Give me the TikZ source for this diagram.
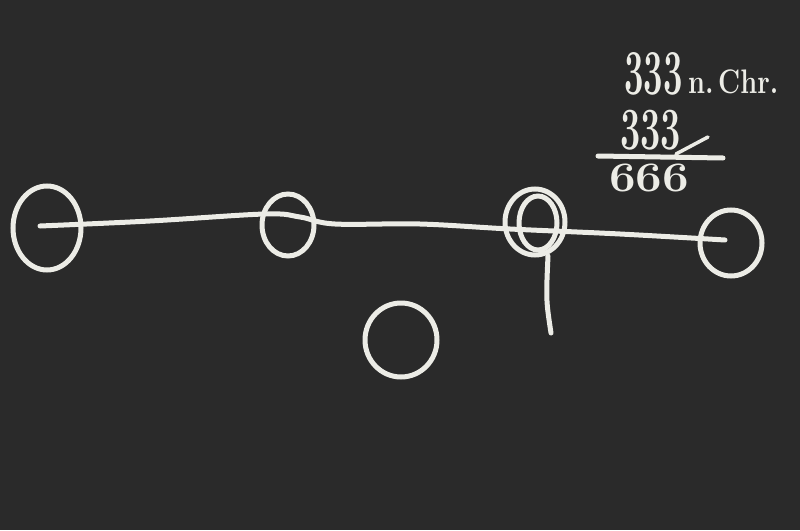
\documentclass[tikz,border=0pt]{standalone}
\usepackage{graphicx}
\usepackage{tikz}
\usetikzlibrary{shapes.geometric}
\definecolor{board}{RGB}{42,42,42}
\definecolor{chalk}{RGB}{236,236,230}
\tikzset{
  ring/.style={ellipse,draw=chalk,line width=5pt,inner sep=0pt},
  stroke/.style={draw=chalk,line width=5pt,line cap=round,line join=round},
  writing/.style={text=chalk,inner sep=0pt,anchor=base west}
}

\begin{document}
\begin{tikzpicture}[x=1pt,y=-1pt]
\fill[board] (0,0) rectangle (800,530);
%circles on the line
\node[ring,minimum width=68pt,minimum height=84pt] (west) at (47,228) {};
\node[ring,minimum width=52pt,minimum height=62pt] (second) at (288,225) {};
\node[ring,minimum width=60pt,minimum height=66pt] (third) at (535,222) {};
\node[ring,minimum width=38pt,minimum height=54pt] (thirdin) at (538,223) {};
\node[ring,minimum width=62pt,minimum height=66pt] (east) at (731,243) {};
%circle below
\node[ring,minimum width=72pt,minimum height=74pt] (below) at (401,340) {};
%line through the circles
\coordinate (lstart) at (40,226);
\coordinate (lend) at (725,240);
\draw[stroke] plot[smooth,tension=.6] coordinates {(lstart) (150,221) (265,214) (300,217) (335,224) (420,224) (510,229) (620,234) (lend)};
\coordinate (stemtop) at (548,256);
\coordinate (stemfoot) at (551,333);
\draw[stroke] (stemtop) .. controls (546,300) .. (stemfoot);
%the sum
\node[writing,font=\fontsize{64}{64}\selectfont\bfseries] (year) at (624,94) {\scalebox{.54}[1]{333}};
\node[writing,font=\fontsize{34}{34}\selectfont\bfseries] (era) at (688,93) {\scalebox{.8}[1]{n.\,Chr.}};
\node[writing,font=\fontsize{60}{60}\selectfont\bfseries] (addend) at (620,149) {\scalebox{.6}[1]{333}};
\node[writing,font=\fontsize{42}{42}\selectfont\bfseries] (total) at (609,191) {\scalebox{1.13}[1]{666}};
\coordinate (barl) at (598,156);
\coordinate (barr) at (723,158);
\draw[stroke] (barl) -- (barr);
\coordinate (slashl) at (676,154);
\coordinate (slashr) at (708,137);
\draw[stroke,line width=3.5pt] (slashl) -- (slashr);
\end{tikzpicture}
\end{document}
